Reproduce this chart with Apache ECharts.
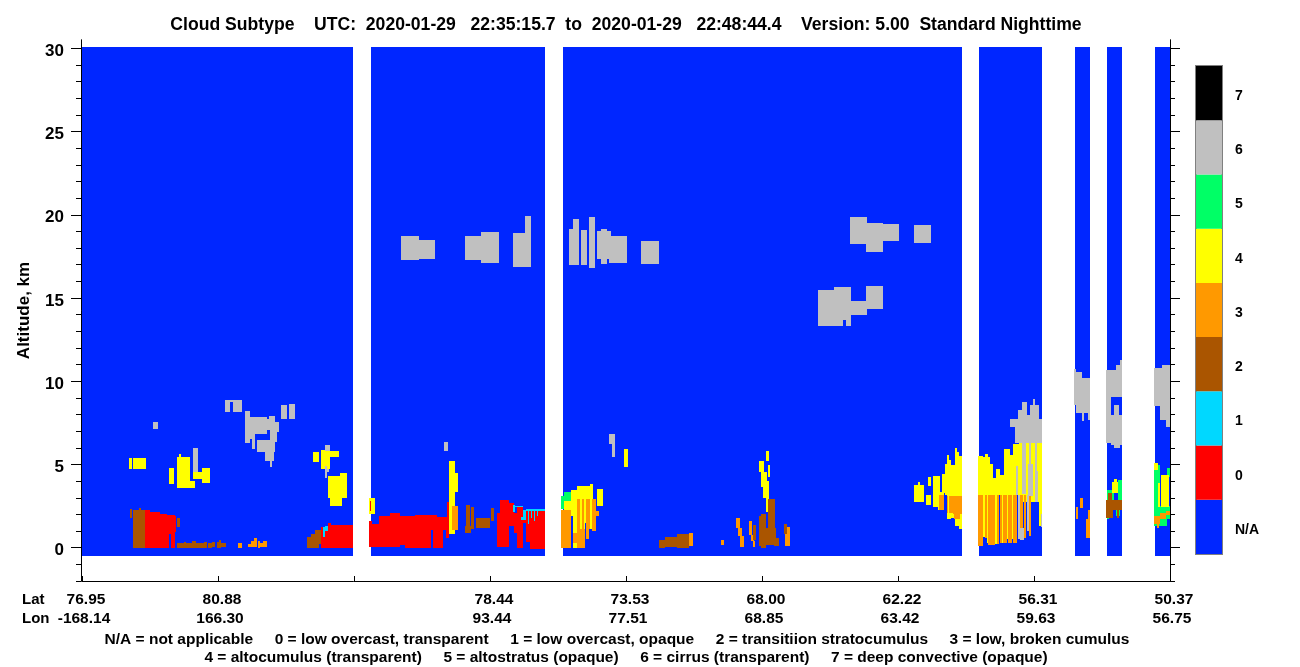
<!DOCTYPE html>
<html>
<head>
<meta charset="utf-8">
<style>html,body{margin:0;padding:0;background:#fff}#c{width:1300px;height:667px}</style>
<script src="https://cdn.jsdelivr.net/npm/echarts@6/dist/echarts.min.js"></script>
</head>
<body>
<div id="c"></div>
<script>
// Each block: [profileStart, profileEnd, altitudeBottomKm, altitudeTopKm]
const latLabels = ['76.95','80.88','','78.44','73.53','68.00','62.22','56.31','50.37'];
const lonLabels = ['-168.14','166.30','','93.44','77.51','68.85','63.42','59.63','56.75'];
const altMajorTicks = [0,5,10,15,20,25,30];
const altMinorTicks = [-2,-1,1,2,3,4,6,7,8,9,11,12,13,14,16,17,18,19,21,22,23,24,26,27,28,29];
const scaleCategories = ['N/A','0','1','2','3','4','5','6','7'];
const scaleColors = ['#0026ff','#ff0000','#00d8ff','#aa5500','#ff9900','#ffff00','#00ff66','#c0c0c0','#000000'];

const blocksNA = [[0,271,-0.48,30.08],[289,463,-0.48,30.08],[481,880,-0.48,30.08],[897,960,-0.48,30.08],[993,1008,-0.48,30.08],[1025,1040,-0.48,30.08],[1073,1088,-0.48,30.08]];

const blocks0 = [[63,68,0,2.27],[68,78,0,2.15],[78,85,0,2.03],[85,87,0,1.97],[87,89,.8,1.97],[89,93,0,1.97],[93,94,.93,1.9],
[239,246,0,1.24],[246,249,0,1.48],[249,271,0,1.36],
[287,290,.04,1.6],[288,289,2.2,2.8],[290,297,.04,1.42],[297,308,.04,1.9],[308,318,.04,2.08],[318,323,.16,1.9],[323,333,0,1.9],[333,349,0,1.96],[349,351,1.06,1.96],[351,355,0,1.96],[355,361,0,1.84],[361,364,1.06,1.84],[364,365,.58,1.84],[365,367,.58,2.75],
[415,418,.04,2.08],[418,427,.04,2.86],[427,432,1.3,2.68],[432,435,.88,2.08],[435,441,0,2.44],[441,444,1.5,2.27],[444,448,.35,2.27],[448,463,-.08,2.27]];

const blocks5 = [[479,482,2.33,3.1],[482,489,2.8,3.34],
[1025,1032,2.87,3.47],[1036,1040,2.87,4.07],[1034,1038,1.9,2.6],[1025,1027,1.7,2.0],
[1072,1078,1.3,4.97],[1085,1088,4.27,4.77],[1078,1088,1.7,2.5],[1078,1085,1.3,1.7]];

const blocks4 = [[47,50,4.73,5.39],[51,64,4.73,5.39],[87,92,3.83,4.79],[95,108,3.59,5.45],[97,99,5.45,5.6],[111,128,4.13,4.55],[120,128,3.89,4.79],[108,113,3.59,4.01],
[231,237,5.15,5.75],[239,248,4.73,5.87],[248,257,5.45,5.81],[246,265,2.99,4.31],[248,260,2.51,2.99],[258,265,4.31,4.5],
[287,288,2.02,2.99],[289,293,2.02,2.99],[288,289,2.8,2.99],[288,289,2.02,2.2],
[367,373,.82,5.2],[368,376,3.34,4.48],
[482,491,2.27,2.8],[489,495,1.9,3.46],[495,508,1.5,3.7],[508,511,2.6,3.82],[491,503,0,1.9],[508,510,1.1,2.9],[515,521,2.5,3.52],[542,546,4.85,5.93],
[684,687,5.2,5.81],[677,682,4.55,5.2],[679,685,3.65,4.55],[681,687,2.99,4.0],[684,687,2.14,2.99],[686,688,4.25,4.97],
[832,842,2.75,3.77],[836,838,3.77,3.95],[844,849,2.56,3.16],[846,849,3.7,4.25],[851,858,2.44,4.3],[856,862,2.26,3.35],[860,863,3.3,4.4],
[863,865,3.15,5.03],[865,867,3.15,5.57],[867,869,3.15,5.27],[869,873,3.15,4.97],[873,875,3.15,5.99],[875,877,3.15,5.75],[877,880,3.15,5.51],
[865,869,1.7,3.15],[869,873,1.8,3.15],[873,877,1.3,3.15],[877,880,1.15,3.15],
[896,901,3.15,5.51],[901,903,3.15,5.43],[903,906,3.15,5.63],[906,908,3.15,5.43],[908,911,3.15,5.03],[911,914,3.15,4.17],[914,918,3.15,4.71],[918,922,3.15,4.37],[922,928,3.15,5.93],[928,931,3.15,5.57],[931,937,3.15,6.23],[937,960,2.75,6.27],
[901,903,.66,3.15],[905,906,.3,3.15],[913,915,.25,3.15],[920,921,.27,3.15],[925,926,.5,3.15],[930,931,.5,3.15],[957,960,1.3,3.2],
[1030,1036,3.27,3.95],[1032,1035,3.95,4.15],
[1072,1076,4.67,5.07],[1079,1087,2.47,4.37],[1076,1078,2.47,3.87]];

const blocks3 = [[156,160,0,.28],[166,169,.05,.25],[169,172,.05,.41],[172,175,.05,.57],[176,178,0,.41],[178,181,.05,.26],[181,185,.05,.41],
[370,376,1.06,2.5],
[479,489,0,2.27],[491,495,.3,.9],[495,503,0,1.1],[495,498,1.1,2.9],[500,502,1.1,2.9],[504,508,1.1,2.9],[510,514,1.0,2.95],[514,517,1.9,2.2],[504,507,.55,1.1],
[607,611,.1,.88],[639,642,.17,.46],[654,658,1.18,1.78],[656,660,.7,1.18],[658,662,.04,.7],[667,670,.76,1.6],[669,672,.4,.76],[671,673,.04,.4],[703,708,.1,1.24],
[857,862,2.26,3.15],[865,866,2.1,3.1],[867,871,2.1,3.1],[871,880,2.05,3.1],[872,878,1.7,2.1],
[896,901,.1,3.15],[903,905,.6,3.15],[906,913,.17,3.15],[915,917,.25,3.15],[918,920,.27,3.15],[921,925,.27,3.15],[926,930,.27,3.15],[931,935,.3,3.15],[938,941,1.2,3.15],[942,944,.6,3.15],[947,949,.7,3.15],
[994,996,1.73,2.45],[998,1001,2.39,2.99],[1004,1008,.6,1.73],[1006,1008,1.73,2.27],
[1072,1078,1.4,1.9],[1078,1084,1.7,2.1],[1084,1088,1.95,2.2],[1075,1077,1.2,1.4]];

const blocks2 = [[48,50,1.78,2.32],[51,63,0,2.27],[57,59,2.27,2.38],[95,98,1.24,1.78],
[95,102,0,.26],[102,104,0,.32],[104,110,0,.26],[110,114,0,.38],[114,122,0,.26],[122,125,0,.32],[126,130,0,.26],[130,133,.05,.34],[135,137,0,.34],[137,139,0,.46],[139,144,.05,.26],
[225,229,0,.64],[229,233,0,.82],[233,239,.2,1.06],[233,237,0,.2],
[384,388,1.3,2.56],[383,389,.88,1.3],[389,392,1.12,2.44],[394,408,1.18,1.78],[409,412,1.6,2.38],
[577,583,0,.46],[583,595,.04,.64],[595,607,0,.82],
[671,674,.46,1.36],[677,680,.1,1.9],[679,684,0,2.02],[684,694,.16,1.18],[686,693,1.06,2.92],[692,697,.1,.58],[702,705,.82,1.42],
[1026,1030,2.87,3.27],[1024,1040,2.27,2.87],[1024,1031,1.77,2.27],[1035,1037,1.8,2.27]];

const blocks6 = [[319,337,17.28,18.72],[337,353,17.34,18.48],[383,399,17.28,18.72],[399,417,17.10,18.96],[431,449,16.86,18.90],[443,449,18.9,19.93],
[487,497,16.98,19.14],[491,497,19.14,19.74],[499,505,16.98,19.08],[507,513,16.80,19.86],[515,529,17.34,19.02],[519,525,17.04,19.14],[527,545,17.10,18.72],[559,577,17.04,18.42],
[768,785,18.24,19.86],[784,801,17.76,19.50],[801,817,18.42,19.44],[832,849,18.30,19.38],[736,761,13.32,15.48],[752,769,13.68,15.66],[764,769,13.32,13.68],[769,785,13.98,14.82],[784,801,14.34,15.72],
[143,148,8.15,8.87],[148,151,8.75,8.87],[151,160,8.15,8.87],[71,76,7.13,7.55],[199,205,7.73,8.57],[207,213,7.73,8.63],
[163,168,6.29,8.21],[168,173,6.53,7.85],[170,173,5.93,6.53],[173,185,6.83,7.85],[185,193,7.07,7.73],[187,193,7.73,7.91],[193,197,6.95,7.55],[188,195,6.35,7.07],[175,193,5.75,6.47],[183,192,5.21,5.75],[188,190,4.85,5.21],
[111,116,4.55,5.99],[243,248,5.81,6.17],[243,245,4.19,4.91],[245,247,4.55,4.7],
[362,366,5.8,6.34],[527,533,6.23,6.83],[530,533,5.45,6.23],
[936,938,.5,3.15],[938,942,.47,1.2],[945,947,1.0,3.15],[959,960,1.27,2.0],
[928,960,7.23,7.73],[933,960,6.27,7.23],[940,945,7.73,8.75],[936,940,7.73,8.27],[948,957,7.73,8.57],[951,953,8.57,8.93],[945,948,7.73,8.0],
[934,936,3.15,4.9],[940,944,3.2,6.27],[946,951,3.1,5.0],[947,949,5.0,6.27],[953,956,2.75,4.6],[953,955,4.6,6.27],
[992,994,8.57,10.73],[994,1000,8.57,10.55],[1000,1008,8.57,10.17],[994,1008,8.07,8.57],[1000,1002,7.61,8.07],[1006,1008,7.67,8.07],
[1024,1034,9.07,10.7],[1034,1038,9.07,10.95],[1038,1040,9.07,11.27],[1024,1029,6.3,9.07],[1029,1040,6.17,7.97],[1032,1037,7.97,8.57],[1032,1038,5.97,6.17],
[1072,1088,8.5,10.4],[1072,1084,10.4,10.77],[1080,1088,10.4,11.0],[1078,1088,7.67,8.5],[1084,1088,7.27,7.67]];

const blocks1 = [[241,243,.64,1.24],[243,246,1.0,1.3],
[431,433,2.15,2.56],[433,441,2.44,2.5],[441,444,1.66,2.27],[444,463,2.2,2.33],[446,447,1.45,2.2],[449,450,1.8,2.2],[452,453,1.6,2.2],[439,443,1.66,1.83],[455,456,1.9,2.2]];

const seriesLayers = [
  ['N/A', blocksNA, scaleColors[0]],
  ['0', blocks0, scaleColors[1]],
  ['5', blocks5, scaleColors[6]],
  ['4', blocks4, scaleColors[5]],
  ['3', blocks3, scaleColors[4]],
  ['2', blocks2, scaleColors[3]],
  ['6', blocks6, scaleColors[7]],
  ['1', blocks1, scaleColors[2]]
];

const FONT = '"Liberation Sans", Arial, sans-serif';
function renderRect(params, api) {
  const a = api.coord([api.value(0), api.value(3)]);
  const b = api.coord([api.value(1), api.value(2)]);
  const x = Math.round(a[0]), y = Math.round(a[1]);
  return {type:'rect', shape:{x:x, y:y, width:Math.round(b[0])-x, height:Math.round(b[1])-y},
          style:{fill:api.visual('color')}};
}
function altAxis(position, ticks, len, withLabels) {
  return {
    type:'value', gridIndex:0, position:position, min:-2, max:30.5, offset:position==='left'?1:0,
    splitLine:{show:false},
    axisLine:{show:true, onZero:false, lineStyle:{color:'#000', width:1}},
    axisTick:{show:true, length:len, customValues:ticks, lineStyle:{color:'#000', width:1}},
    axisLabel: withLabels ? {show:true, customValues:ticks, color:'#000', margin:17,
        formatter:function(v){return '{a|'+v+'}';},
        rich:{a:{color:'#000', fontFamily:FONT, fontWeight:'bold', fontSize:17, padding:[6,0,0,0]}}}
                          : {show:false}
  };
}
const altAxisNamed = Object.assign(altAxis('left', altMajorTicks, 10, true), {
  name:'Altitude, km', nameLocation:'middle', nameGap:48, nameRotate:90,
  nameTextStyle:{color:'#000', fontFamily:FONT, fontWeight:'bold', fontSize:17}
});
function coordLabels(labels, margin, pad) {
  return {show:true, color:'#000', fontFamily:FONT, fontWeight:'bold', fontSize:15.5, margin:margin, hideOverlap:false,
    showMinLabel:true, showMaxLabel:true, padding:[0,0,0,pad],
    formatter:function(v){return labels[Math.round(v/136)]||'';}};
}
const chart = echarts.init(document.getElementById('c'), null, {renderer:'canvas'});
chart.setOption({
  animation:false,
  backgroundColor:'#fff',
  title:[
    {text:'Cloud Subtype    UTC:  2020-01-29   22:35:15.7  to  2020-01-29   22:48:44.4    Version: 5.00  Standard Nighttime',
     left:621, top:11, textAlign:'center', textStyle:{color:'#000', fontFamily:FONT, fontWeight:'bold', fontSize:17.6}},
    {text:'Lat\nLon', left:17, top:585, textStyle:{color:'#000', fontFamily:FONT, fontWeight:'bold', fontSize:15, lineHeight:19}},
    {text:'N/A = not applicable     0 = low overcast, transparent     1 = low overcast, opaque     2 = transitiion stratocumulus     3 = low, broken cumulus',
     left:612, top:627, textAlign:'center', textStyle:{color:'#000', fontFamily:FONT, fontWeight:'bold', fontSize:15.5}},
    {text:'4 = altocumulus (transparent)     5 = altostratus (opaque)     6 = cirrus (transparent)     7 = deep convective (opaque)',
     left:621, top:645, textAlign:'center', textStyle:{color:'#000', fontFamily:FONT, fontWeight:'bold', fontSize:15.5}}
  ],
  grid:[
    {left:82, top:40, width:1088, height:541, containLabel:false},
    {left:1196, top:66, width:26, height:488, show:true, borderColor:'#808080', borderWidth:2, backgroundColor:'transparent'}
  ],
  xAxis:[
    {type:'value', gridIndex:0, min:0, max:1088, interval:136, position:'bottom', splitLine:{show:false},
     axisLine:{show:true, onZero:false, lineStyle:{color:'#000', width:1}},
     axisTick:{show:true, inside:true, length:5, lineStyle:{color:'#000', width:1}},
     axisLabel:coordLabels(latLabels, 11, 8)},
    {type:'value', gridIndex:1, min:0, max:1, show:false},
    {type:'value', gridIndex:0, min:0, max:1088, interval:136, position:'bottom', splitLine:{show:false},
     axisLine:{show:false}, axisTick:{show:false}, axisLabel:coordLabels(lonLabels, 30, 4)}
  ],
  yAxis:[
    altAxisNamed,
    altAxis('left', altMinorTicks, 5, false),
    altAxis('right', altMajorTicks, 10, false),
    altAxis('right', altMinorTicks, 5, false),
    {type:'category', gridIndex:1, position:'right', data:scaleCategories,
     axisLine:{show:false}, axisTick:{show:false}, splitLine:{show:false},
     axisLabel:{show:true, margin:13, align:'left', color:'#000',
       formatter:function(v){return '{a|'+v+'}';},
       rich:{a:{color:'#000', fontFamily:FONT, fontWeight:'bold', fontSize:14, padding:[6,0,0,0]}}}}
  ],
  series: seriesLayers.map(function(s){
    return {name:s[0], type:'custom', xAxisIndex:0, yAxisIndex:0, renderItem:renderRect, data:s[1], clip:false,
            encode:{x:[0,1], y:[2,3]}, itemStyle:{color:s[2]}, silent:true, animation:false};
  }).concat([{
    name:'scale', type:'bar', xAxisIndex:1, yAxisIndex:4, barWidth:'100%', silent:true,
    data:scaleCategories.map(function(c,i){return {value:1, itemStyle:{color:scaleColors[i]}};})
  }])
});
</script>
</body>
</html>
